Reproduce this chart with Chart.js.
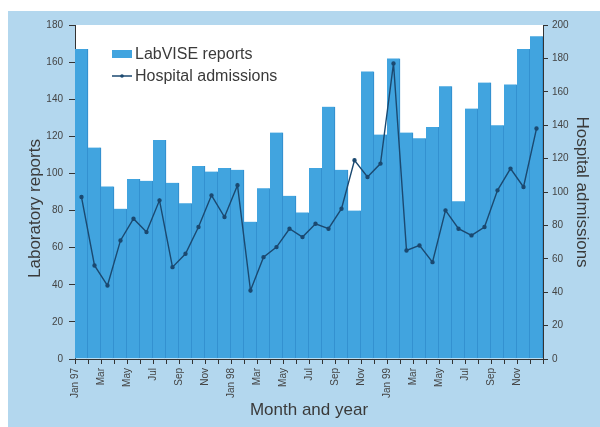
<!DOCTYPE html>
<html>
<head>
<meta charset="utf-8">
<script src="https://cdn.jsdelivr.net/npm/chart.js@4/dist/chart.umd.min.js"></script>
<style>
  html, body { margin: 0; padding: 0; background: #ffffff; }
  #wrap { position: absolute; left: 8px; top: 11px; width: 592px; height: 416px; background: #b3d7ee; }
</style>
</head>
<body>
<div id="wrap"><canvas id="chart" width="592" height="416"></canvas></div>
<script>
// 1. DATA (Jan 97 - Dec 99)
const monthLabels = [
    'Jan 97', 'Feb', 'Mar', 'Apr', 'May', 'Jun', 'Jul', 'Aug', 'Sep', 'Oct', 'Nov', 'Dec',
    'Jan 98', 'Feb', 'Mar', 'Apr', 'May', 'Jun', 'Jul', 'Aug', 'Sep', 'Oct', 'Nov', 'Dec',
    'Jan 99', 'Feb', 'Mar', 'Apr', 'May', 'Jun', 'Jul', 'Aug', 'Sep', 'Oct', 'Nov', 'Dec'
];
const labviseReports = [
    167, 114, 93, 81, 97, 96, 118, 95, 84, 104, 101, 103,
    102, 74, 92, 122, 88, 79, 103, 136, 102, 80, 155, 121,
    162, 122, 119, 125, 147, 85, 135, 149, 126, 148, 167, 174
];
const hospitalAdmissions = [
    97, 56, 44, 71, 84, 76, 95, 55, 63, 79, 98, 85,
    104, 41, 61, 67, 78, 73, 81, 78, 90, 119, 109, 117,
    177, 65, 68, 58, 89, 78, 74, 79, 101, 114, 103, 138
];
const leftTicks = [0, 20, 40, 60, 80, 100, 120, 140, 160, 180];
const rightTicks = [0, 20, 40, 60, 80, 100, 120, 140, 160, 180, 200];

// 2. STYLE
const barBlue = '#41a4df';
const barEdge = '#2d88c8';
const lineNavy = '#1b4970';
const textGrey = '#3a3a3a';
const font = 'Liberation Sans, Arial, sans-serif';

// white plot area on the blue panel
const plotBackground = {
    id: 'plotBackground',
    beforeDraw(chart) {
        const { ctx, chartArea: a } = chart;
        ctx.save();
        ctx.fillStyle = '#ffffff';
        ctx.fillRect(a.left, a.top, a.right - a.left, a.bottom - a.top);
        ctx.restore();
    }
};

// legend sits inside the plot, top-left
const insideLegend = {
    id: 'insideLegend',
    afterDraw(chart) {
        const { ctx, chartArea: a } = chart;
        const x = a.left + 37;
        ctx.save();
        ctx.font = '16px ' + font;
        ctx.textBaseline = 'middle';
        // bar entry
        ctx.fillStyle = barBlue;
        ctx.fillRect(x, a.top + 25, 20, 8);
        ctx.fillStyle = textGrey;
        ctx.fillText(chart.data.datasets[1].label, x + 23, a.top + 30);
        // line entry
        ctx.strokeStyle = lineNavy;
        ctx.lineWidth = 1.5;
        ctx.beginPath();
        ctx.moveTo(x, a.top + 51);
        ctx.lineTo(x + 20, a.top + 51);
        ctx.stroke();
        ctx.fillStyle = lineNavy;
        ctx.beginPath();
        ctx.arc(x + 10, a.top + 51, 1.8, 0, Math.PI * 2);
        ctx.fill();
        ctx.fillStyle = textGrey;
        ctx.fillText(chart.data.datasets[0].label, x + 23, a.top + 52);
        ctx.restore();
    }
};

// 3. CHART
new Chart(document.getElementById('chart'), {
    data: {
        labels: monthLabels,
        datasets: [{
            type: 'line',
            label: 'Hospital admissions',
            data: hospitalAdmissions,
            yAxisID: 'y1',
            borderColor: lineNavy,
            backgroundColor: lineNavy,
            borderWidth: 1.4,
            pointRadius: 1.5,
            tension: 0
        }, {
            type: 'bar',
            label: 'LabVISE reports',
            data: labviseReports,
            yAxisID: 'y',
            backgroundColor: barBlue,
            borderColor: barEdge,
            borderWidth: { left: 0, right: 1, top: 0, bottom: 0 },
            borderSkipped: false,
            barPercentage: 1,
            categoryPercentage: 1
        }]
    },
    options: {
        responsive: false,
        animation: false,
        layout: { padding: { top: 14, left: 0, right: 0, bottom: 0 } },
        plugins: { legend: { display: false }, tooltip: { enabled: false } },
        scales: {
            x: {
                offset: true,
                grid: { offset: true, drawOnChartArea: false, tickLength: 5, color: '#333', tickWidth: 1 },
                border: { color: '#333', width: 1 },
                ticks: {
                    autoSkip: false, minRotation: 90, maxRotation: 90,
                    labelOffset: -6.5, padding: 4,
                    color: '#444', font: { family: font, size: 10 },
                    callback: (v, i) => (i % 2 === 0 ? monthLabels[i] : '')
                },
                title: { display: true, text: 'Month and year', color: textGrey,
                    font: { family: font, size: 17 }, padding: { top: 0, bottom: 6 } },
                afterFit: s => { s.height = 68; }
            },
            y: {
                position: 'left',
                min: 0, max: 180,
                grid: { drawOnChartArea: false, tickLength: 6, color: '#333' },
                border: { color: '#333', width: 1 },
                afterBuildTicks: s => { s.ticks = leftTicks.map(v => ({ value: v })); },
                ticks: { color: '#444', font: { family: font, size: 10 }, padding: 6 },
                title: { display: true, text: 'Laboratory reports       ', color: textGrey,
                    font: { family: font, size: 17 }, padding: { top: 17, bottom: 0 } },
                afterFit: s => { s.width = 67; }
            },
            y1: {
                position: 'right',
                min: 0, max: 200,
                grid: { drawOnChartArea: false, tickLength: 5, color: '#333' },
                border: { color: '#333', width: 1 },
                afterBuildTicks: s => { s.ticks = rightTicks.map(v => ({ value: v })); },
                ticks: { color: '#444', font: { family: font, size: 10 }, padding: 4 },
                title: { display: true, text: 'Hospital admissions', color: textGrey,
                    font: { family: font, size: 17 }, padding: { top: 8, bottom: 0 } },
                afterFit: s => { s.width = 57; }
            }
        }
    },
    plugins: [plotBackground, insideLegend]
});
</script>
</body>
</html>
